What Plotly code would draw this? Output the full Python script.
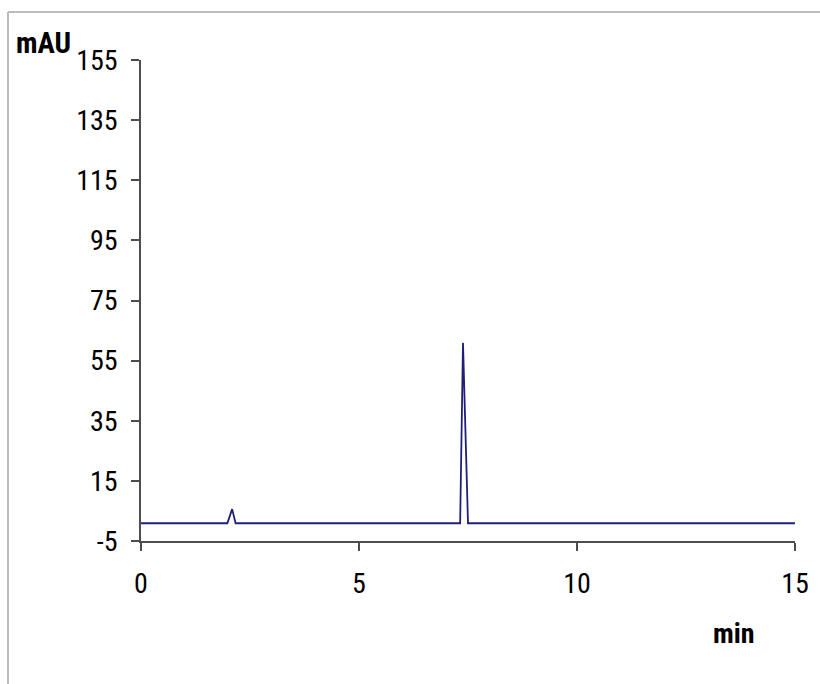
import plotly.graph_objects as go

# Chromatogram data
time_min = [0.0, 1.98, 2.09, 2.17, 7.32, 7.385, 7.50, 15.0]
absorbance_mau = [0.9, 0.9, 5.6, 0.9, 0.9, 60.9, 0.9, 0.9]

y_ticks = [-5, 15, 35, 55, 75, 95, 115, 135, 155]
y_tick_labels = ["-5", "15", "35", "55", "75", "95", "115", "135", "155"]
x_ticks = [0, 5, 10, 15]
x_tick_labels = ["0", "5", "10", "15"]

FONT = "Roboto Condensed, Liberation Sans Narrow, sans-serif"
AXIS_COLOR = "#4d4d4d"

W, H = 820, 684
L, R, T, B = 141, 25, 60, 143
plot_w = W - L - R
plot_h = H - T - B


def px_x(x):
    return (x - L) / plot_w


def px_y(y):
    return 1 - (y - T) / plot_h


fig = go.Figure()
fig.add_trace(go.Scatter(
    x=time_min, y=absorbance_mau, mode="lines",
    line=dict(color="#1f1f7a", width=1.8), showlegend=False, hoverinfo="skip"))

fig.update_layout(
    width=W, height=H,
    margin=dict(l=L, r=R, t=T, b=B),
    paper_bgcolor="white", plot_bgcolor="white",
    font=dict(family=FONT, size=28, color="black"),
    xaxis=dict(range=[0, 15], tickvals=x_ticks, ticktext=x_tick_labels,
               showgrid=False, zeroline=False,
               showline=True, linecolor=AXIS_COLOR, linewidth=1.5,
               ticks="outside", ticklen=8, tickcolor=AXIS_COLOR, tickwidth=1.5,
               ticklabelstandoff=9),
    yaxis=dict(range=[-5, 155], tickvals=y_ticks, ticktext=y_tick_labels,
               showgrid=False, zeroline=False,
               showline=True, linecolor=AXIS_COLOR, linewidth=1.5,
               ticks="outside", ticklen=8, tickcolor=AXIS_COLOR, tickwidth=1.5,
               ticklabelstandoff=8),
    shapes=[
        dict(type="line", xref="paper", yref="paper", x0=px_x(8), x1=px_x(820),
             y0=px_y(12), y1=px_y(12), line=dict(color="#bdbdbd", width=2)),
        dict(type="line", xref="paper", yref="paper", x0=px_x(8), x1=px_x(8),
             y0=px_y(12), y1=px_y(684), line=dict(color="#bdbdbd", width=2)),
    ],
    annotations=[
        dict(text="<b>mAU</b>", xref="paper", yref="paper",
             x=px_x(14), y=px_y(43),
             xanchor="left", yanchor="middle", showarrow=False,
             font=dict(family=FONT, size=29, color="black")),
        dict(text="<b>min</b>", xref="paper", yref="paper",
             x=px_x(734), y=px_y(633),
             xanchor="center", yanchor="middle", showarrow=False,
             font=dict(family=FONT, size=28, color="black")),
    ],
)

fig.write_html(
    "out.html",
    config={"displayModeBar": False},
    post_script="document.body.style.margin='0';document.body.style.overflow='hidden';",
)
